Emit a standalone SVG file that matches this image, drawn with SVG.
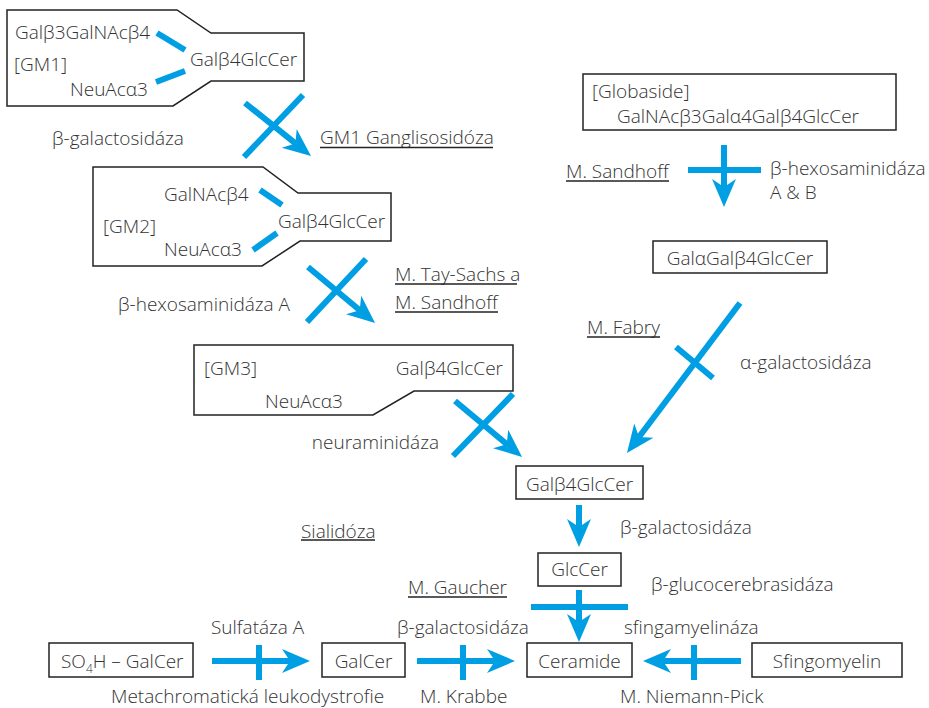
<svg xmlns="http://www.w3.org/2000/svg" width="929" height="708" viewBox="0 0 929 708">
<style>
text{font-family:"Open Sans","Noto Sans","Liberation Sans",sans-serif;font-size:19px;font-weight:300;fill:#333;}
.box{fill:#fff;stroke:#222;stroke-width:1.5;}
.bl{stroke:#009fe3;stroke-width:6;fill:none;stroke-linecap:butt;}
.ul{stroke:#222;stroke-width:1.6;}
.ar{stroke:#009fe3;stroke-width:6;fill:none;marker-end:url(#ah);}
</style>
<defs>
<marker id="ah" markerUnits="userSpaceOnUse" viewBox="0 -13 29 26" refX="14" refY="0" markerWidth="29" markerHeight="26" orient="auto">
<path d="M0,-12 L28,0 L0,12 L8,0 Z" fill="#009fe3"/>
</marker>
</defs>
<rect width="929" height="708" fill="#fff"/>

<g id="gm1">
<path class="box" d="M7,10 L177,10 L211,33 L304,33 L304,81 L211,81 L173,106 L7,106 Z"/>
<text x="15" y="39">Galβ3GalNAcβ4</text>
<text x="14" y="71">[GM1]</text>
<text x="70" y="96">NeuAcα3</text>
<text x="190" y="66">Galβ4GlcCer</text>
<line class="bl" x1="157" y1="33" x2="185" y2="50"/>
<line class="bl" x1="156" y1="82" x2="185" y2="71"/>
</g>

<g id="gm2">
<path class="box" d="M93,167 L263,167 L298,193 L391,193 L391,241 L300,241 L262,266 L93,266 Z"/>
<text x="164" y="201">GalNAcβ4</text>
<text x="103" y="233">[GM2]</text>
<text x="164" y="256">NeuAcα3</text>
<text x="278" y="228">Galβ4GlcCer</text>
<line class="bl" x1="260" y1="190" x2="282" y2="205"/>
<line class="bl" x1="253" y1="250" x2="277" y2="233"/>
</g>

<g id="gm3">
<path class="box" d="M194,345 L513,345 L513,391 L414,391 L373,415 L194,415 Z"/>
<text x="204" y="375">[GM3]</text>
<text x="503" y="375" text-anchor="end">Galβ4GlcCer</text>
<text x="265" y="408">NeuAcα3</text>
</g>

<g id="globaside">
<rect class="box" x="583" y="74" width="313" height="56"/>
<text x="592" y="98">[Globaside]</text>
<text x="617" y="123">GalNAcβ3Galα4Galβ4GlcCer</text>
</g>

<g id="galagal">
<rect class="box" x="653" y="241" width="174" height="32"/>
<text x="740" y="265" text-anchor="middle">GalαGalβ4GlcCer</text>
</g>

<g id="lactosyl">
<rect class="box" x="516" y="466" width="127" height="33"/>
<text x="579.5" y="491" text-anchor="middle">Galβ4GlcCer</text>
</g>

<g id="glccer">
<rect class="box" x="538" y="553" width="83" height="33"/>
<text x="579.5" y="576" text-anchor="middle">GlcCer</text>
</g>

<g id="so4h">
<rect class="box" x="49" y="643" width="144" height="34"/>
<text x="61" y="668">SO<tspan font-size="12" dy="5">4</tspan><tspan dy="-5">H – GalCer</tspan></text>
</g>

<g id="galcer">
<rect class="box" x="322" y="643" width="83" height="34"/>
<text x="363.5" y="668" text-anchor="middle">GalCer</text>
</g>

<g id="ceramide">
<rect class="box" x="527" y="643" width="105" height="34"/>
<text x="579.5" y="668" text-anchor="middle">Ceramide</text>
</g>

<g id="sfingomyelin">
<rect class="box" x="752" y="643" width="150" height="34"/>
<text x="827" y="668" text-anchor="middle">Sfingomyelin</text>
</g>

<g id="connectors">
<line class="ar" x1="245" y1="103" x2="300.1" y2="147.2"/>
<line class="bl" x1="303" y1="95" x2="244" y2="157"/>
<line class="ar" x1="308" y1="267" x2="364.3" y2="314"/>
<line class="bl" x1="366" y1="259" x2="307" y2="322"/>
<line class="ar" x1="455" y1="401" x2="511.3" y2="448"/>
<line class="bl" x1="513" y1="394" x2="453" y2="456"/>
<line class="ar" x1="724" y1="145" x2="724" y2="193"/>
<line class="bl" x1="688" y1="170" x2="761" y2="170"/>
<line class="ar" x1="740" y1="303" x2="635.4" y2="441.8"/>
<line class="bl" x1="676" y1="347" x2="713" y2="378"/>
<line class="ar" x1="579" y1="505" x2="579" y2="533"/>
<line class="ar" x1="579" y1="590" x2="579" y2="628"/>
<line class="bl" x1="531" y1="607" x2="628" y2="607"/>
<line class="ar" x1="212" y1="661" x2="296" y2="661"/>
<line class="bl" x1="259" y1="645" x2="259" y2="680"/>
<line class="ar" x1="417" y1="661" x2="501" y2="661"/>
<line class="bl" x1="463" y1="645" x2="463" y2="680"/>
<line class="ar" x1="741" y1="661" x2="657" y2="661"/>
<line class="bl" x1="694" y1="645" x2="694" y2="680"/>
</g>

<g id="labels">
<text x="52" y="145">β-galactosidáza</text>
<text x="320" y="144">GM1 Ganglisosidóza</text>
<line class="ul" x1="320" y1="147.5" x2="493" y2="147.5"/>
<text x="290" y="311" text-anchor="end">β-hexosaminidáza A</text>
<text x="395" y="281">M. Tay-Sachs a</text>
<line class="ul" x1="395" y1="284" x2="517" y2="284"/>
<text x="395" y="309">M. Sandhoff</text>
<line class="ul" x1="395" y1="312" x2="498" y2="312"/>
<text x="439" y="449" text-anchor="end">neuraminidáza</text>
<text x="566" y="178">M. Sandhoff</text>
<line class="ul" x1="566" y1="181" x2="669" y2="181"/>
<text x="770" y="175">β-hexosaminidáza</text>
<text x="770" y="199">A &amp; B</text>
<text x="587" y="334">M. Fabry</text>
<line class="ul" x1="587" y1="337" x2="660" y2="337"/>
<text x="740" y="369">α-galactosidáza</text>
<text x="620" y="534">β-galactosidáza</text>
<text x="301" y="538">Sialidóza</text>
<line class="ul" x1="301" y1="540" x2="375" y2="540"/>
<text x="408" y="594">M. Gaucher</text>
<line class="ul" x1="408" y1="597" x2="507" y2="597"/>
<text x="651" y="591">β-glucocerebrasidáza</text>
<text x="211" y="634">Sulfatáza A</text>
<text x="397" y="634">β-galactosidáza</text>
<text x="624" y="634">sfingamyelináza</text>
<text x="111" y="703">Metachromatická leukodystrofie</text>
<text x="420" y="703">M. Krabbe</text>
<text x="620" y="703">M. Niemann-Pick</text>
</g>
</svg>
